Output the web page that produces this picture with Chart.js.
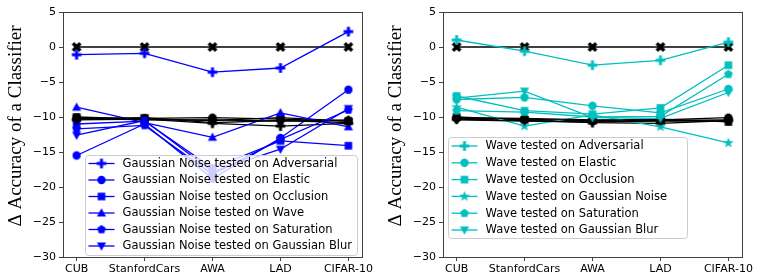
<!DOCTYPE html>
<html>
<head>
<meta charset="utf-8">
<script src="https://cdn.jsdelivr.net/npm/chart.js@4.4.1/dist/chart.umd.min.js"></script>
<style>
  html, body { margin:0; padding:0; background:#fff; }
  #wrap { position:relative; width:761px; height:280px; }
  canvas { position:absolute; top:0; }
  #left  { left:0; }
  #right { left:380px; }
</style>
</head>
<body>
<div id="wrap">
  <canvas id="left" width="380" height="280"></canvas>
  <canvas id="right" width="381" height="280"></canvas>
</div>
<script>
// ---------- dados ----------
const categories = ['CUB', 'StanfordCars', 'AWA', 'LAD', 'CIFAR-10'];
const yMin = -30, yMax = 5, yStep = 5;

// esquerda: Gaussian Noise testado em ...
const gnAdversarial = [-1.1, -0.9, -3.6, -3.0, 2.2];
const gnElastic     = [-15.5, -11.0, -18.8, -13.0, -6.1];
const gnOcclusion   = [-11.0, -10.6, -17.3, -13.4, -14.1];
const gnWave        = [-8.6, -10.8, -12.9, -9.4, -11.4];
const gnSaturation  = [-11.7, -11.2, -18.2, -13.2, -9.0];
const gnBlur        = [-12.6, -10.5, -17.8, -14.6, -8.8];

// esquerda: linhas pretas (referência)
const gnBaseZero   = [0, 0, 0, 0, 0];
const gnBaseCircle = [-10.3, -10.2, -10.1, -10.3, -10.6];
const gnBaseSquare = [-10.0, -10.3, -10.5, -10.1, -10.6];
const gnBasePlus   = [-10.4, -10.3, -10.9, -11.3, -10.9];
const gnBasePent   = [-10.2, -10.4, -10.4, -10.6, -10.4];
const gnBaseDown   = [-10.2, -10.1, -10.8, -10.5, -10.8];

// direita: Wave testado em ...
const wvAdversarial = [1.0, -0.6, -2.6, -1.9, 0.7];
const wvElastic     = [-7.5, -7.2, -8.4, -9.4, -6.0];
const wvOcclusion   = [-7.0, -9.1, -9.6, -8.7, -2.6];
const wvNoise       = [-8.6, -11.3, -9.7, -11.4, -13.7];
const wvSaturation  = [-9.1, -9.3, -10.0, -9.9, -3.9];
const wvBlur        = [-7.3, -6.3, -10.1, -10.2, -6.5];

// direita: linhas pretas
const wvBaseZero   = [0, 0, 0, 0, 0];
const wvBaseCircle = [-10.2, -10.3, -10.6, -10.4, -10.1];
const wvBaseSquare = [-10.0, -10.4, -10.5, -10.3, -10.7];
const wvBasePlus   = [-10.3, -10.5, -10.8, -10.9, -10.5];
const wvBasePent   = [-10.1, -10.2, -10.4, -10.5, -10.4];
const wvBaseDown   = [-10.4, -10.6, -10.7, -10.6, -10.6];

const BLUE = '#0000ff';
const CYAN = '#00bfbf';
const BLACK = '#000000';
const AXIS = '#404040';

// ---------- marcadores (canvas) ----------
function marker(shape, color){
  const S = 14, m = S/2;
  const c = document.createElement('canvas'); c.width = S; c.height = S;
  const g = c.getContext('2d');
  g.fillStyle = color;
  const poly = (pts)=>{ g.beginPath(); pts.forEach(([x,y],i)=> i ? g.lineTo(x,y) : g.moveTo(x,y)); g.closePath(); g.fill(); };
  const ngon = (n, r, rot)=>{ const p=[]; for(let i=0;i<n;i++){ const a=rot+i*2*Math.PI/n; p.push([m+r*Math.cos(a), m+r*Math.sin(a)]); } return p; };
  if(shape==='circle'){ g.beginPath(); g.arc(m,m,4.2,0,2*Math.PI); g.fill(); }
  else if(shape==='square'){ g.fillRect(m-3.8,m-3.8,7.6,7.6); }
  else if(shape==='up'){ poly([[m,m-4.8],[m+4.6,m+3.4],[m-4.6,m+3.4]]); }
  else if(shape==='down'){ poly([[m,m+4.8],[m+4.6,m-3.4],[m-4.6,m-3.4]]); }
  else if(shape==='pent'){ poly(ngon(5, 4.6, -Math.PI/2)); }
  else if(shape==='star'){
    const p=[]; for(let i=0;i<10;i++){ const r = i%2 ? 2.3 : 5.6; const a=-Math.PI/2+i*Math.PI/5; p.push([m+r*Math.cos(a), m+r*Math.sin(a)]); }
    poly(p);
  }
  else if(shape==='plus'){ g.fillRect(m-1.5,m-4.8,3,9.6); g.fillRect(m-4.8,m-1.5,9.6,3); }
  else if(shape==='x'){
    g.translate(m,m); g.rotate(Math.PI/4);
    g.fillRect(-1.7,-5.2,3.4,10.4); g.fillRect(-5.2,-1.7,10.4,3.4);
  }
  return c;
}

function pts(arr){ return arr.map((v,i)=>({ x:i, y:v })); }

function ds(label, arr, color, shape, inLegend, order){
  return {
    label, data: pts(arr),
    borderColor: color, backgroundColor: color,
    borderWidth: 1.3,
    pointStyle: marker(shape, color),
    pointRadius: 5, pointHoverRadius: 5,
    _legend: inLegend, _shape: shape,
    order
  };
}

// ---------- plugin: moldura, título do eixo y e legenda ----------
const frameLegend = {
  id: 'frameLegend',
  afterDraw(chart, args, opts){
    const { ctx, chartArea:a } = chart;
    ctx.save();
    ctx.strokeStyle = AXIS; ctx.lineWidth = 1;
    ctx.strokeRect(Math.round(a.left)+0.5, Math.round(a.top)+0.5, Math.round(a.right-a.left), Math.round(a.bottom-a.top));

    // título do eixo y
    ctx.save();
    ctx.translate(opts.titleX, opts.titleY);
    ctx.rotate(-Math.PI/2);
    ctx.fillStyle = '#000';
    ctx.font = '19px "Liberation Serif", "DejaVu Serif", serif';
    ctx.textAlign = 'center'; ctx.textBaseline = 'middle';
    ctx.fillText('\u0394 Accuracy of a Classifier', 0, 0);
    ctx.restore();

    // legenda
    const b = opts.box;
    ctx.fillStyle = 'rgba(255,255,255,0.8)';
    ctx.strokeStyle = '#cccccc';
    ctx.beginPath();
    ctx.roundRect(b.x+0.5, b.y+0.5, b.w, b.h, 3);
    ctx.fill(); ctx.stroke();

    const items = chart.data.datasets.filter(d=>d._legend);
    ctx.font = '11.5px "DejaVu Sans", sans-serif';
    ctx.textBaseline = 'middle'; ctx.textAlign = 'left';
    items.forEach((d,i)=>{
      const y = b.y + b.first + i*b.step;
      const x0 = b.x + 3.5;
      ctx.strokeStyle = d.borderColor; ctx.lineWidth = 1.3;
      ctx.beginPath(); ctx.moveTo(x0, y); ctx.lineTo(x0+26, y); ctx.stroke();
      const img = d.pointStyle;
      ctx.drawImage(img, x0+13-img.width/2, y-img.height/2);
      ctx.fillStyle = '#000';
      ctx.fillText(d.label, x0+34, y+0.5);
    });
    ctx.restore();
  }
};

function buildChart(canvas, datasets, padRight, legendBox){
  return new Chart(canvas.getContext('2d'), {
    type: 'line',
    data: { datasets },
    plugins: [frameLegend],
    options: {
      responsive: false,
      animation: false,
      events: [],
      layout: { padding: { left:0, right:padRight, top:12, bottom:0 } },
      plugins: {
        legend: { display:false },
        tooltip: { enabled:false },
        frameLegend: { box: legendBox, titleX: 16, titleY: 126 }
      },
      scales: {
        x: {
          type: 'linear', min: -0.2, max: 4.2,
          afterBuildTicks: s => { s.ticks = categories.map((c,i)=>({ value:i })); },
          afterFit: s => { s.height = 23; },
          ticks: {
            callback: v => categories[v] ?? '',
            color: '#000', padding: 2, maxRotation: 0, autoSkip: false,
            font: { family: 'DejaVu Sans', size: 11 }
          },
          grid: { drawOnChartArea:false, drawTicks:true, tickLength:4, color:AXIS },
          border: { display:true, color:AXIS }
        },
        y: {
          min: yMin, max: yMax,
          afterFit: s => { s.width = 63; },
          ticks: {
            stepSize: yStep,
            callback: v => v < 0 ? '\u2212' + Math.abs(v) : String(v),
            color: '#000', padding: 3,
            font: { family: 'DejaVu Sans', size: 11 }
          },
          grid: { drawOnChartArea:false, drawTicks:true, tickLength:4, color:AXIS },
          border: { display:true, color:AXIS }
        }
      }
    }
  });
}

// ---------- montagem ----------
const leftSets = [
  ds('base0', gnBaseZero, BLACK, 'x', false, 20),
  ds('Gaussian Noise tested on Adversarial', gnAdversarial, BLUE, 'plus', true, 10),
  ds('baseC', gnBaseCircle, BLACK, 'circle', false, 9),
  ds('Gaussian Noise tested on Elastic', gnElastic, BLUE, 'circle', true, 8),
  ds('baseS', gnBaseSquare, BLACK, 'square', false, 7),
  ds('Gaussian Noise tested on Occlusion', gnOcclusion, BLUE, 'square', true, 6),
  ds('baseP', gnBasePlus, BLACK, 'plus', false, 5),
  ds('Gaussian Noise tested on Wave', gnWave, BLUE, 'up', true, 4),
  ds('baseT', gnBasePent, BLACK, 'pent', false, 3),
  ds('Gaussian Noise tested on Saturation', gnSaturation, BLUE, 'pent', true, 2),
  ds('baseD', gnBaseDown, BLACK, 'down', false, 1),
  ds('Gaussian Noise tested on Gaussian Blur', gnBlur, BLUE, 'down', true, 0)
];

const rightSets = [
  ds('base0', wvBaseZero, BLACK, 'x', false, 20),
  ds('Wave tested on Adversarial', wvAdversarial, CYAN, 'plus', true, 10),
  ds('baseC', wvBaseCircle, BLACK, 'circle', false, 9),
  ds('Wave tested on Elastic', wvElastic, CYAN, 'circle', true, 8),
  ds('baseS', wvBaseSquare, BLACK, 'square', false, 7),
  ds('Wave tested on Occlusion', wvOcclusion, CYAN, 'square', true, 6),
  ds('baseP', wvBasePlus, BLACK, 'plus', false, 5),
  ds('Wave tested on Gaussian Noise', wvNoise, CYAN, 'star', true, 4),
  ds('baseT', wvBasePent, BLACK, 'pent', false, 3),
  ds('Wave tested on Saturation', wvSaturation, CYAN, 'pent', true, 2),
  ds('baseD', wvBaseDown, BLACK, 'down', false, 1),
  ds('Wave tested on Gaussian Blur', wvBlur, CYAN, 'down', true, 0)
];

buildChart(document.getElementById('left'), leftSets, 18,
  { x:85, y:155, w:272, h:100, first:8.5, step:16.5 });
buildChart(document.getElementById('right'), rightSets, 19,
  { x:68, y:137, w:239, h:101, first:9, step:16.8 });
</script>
</body>
</html>
